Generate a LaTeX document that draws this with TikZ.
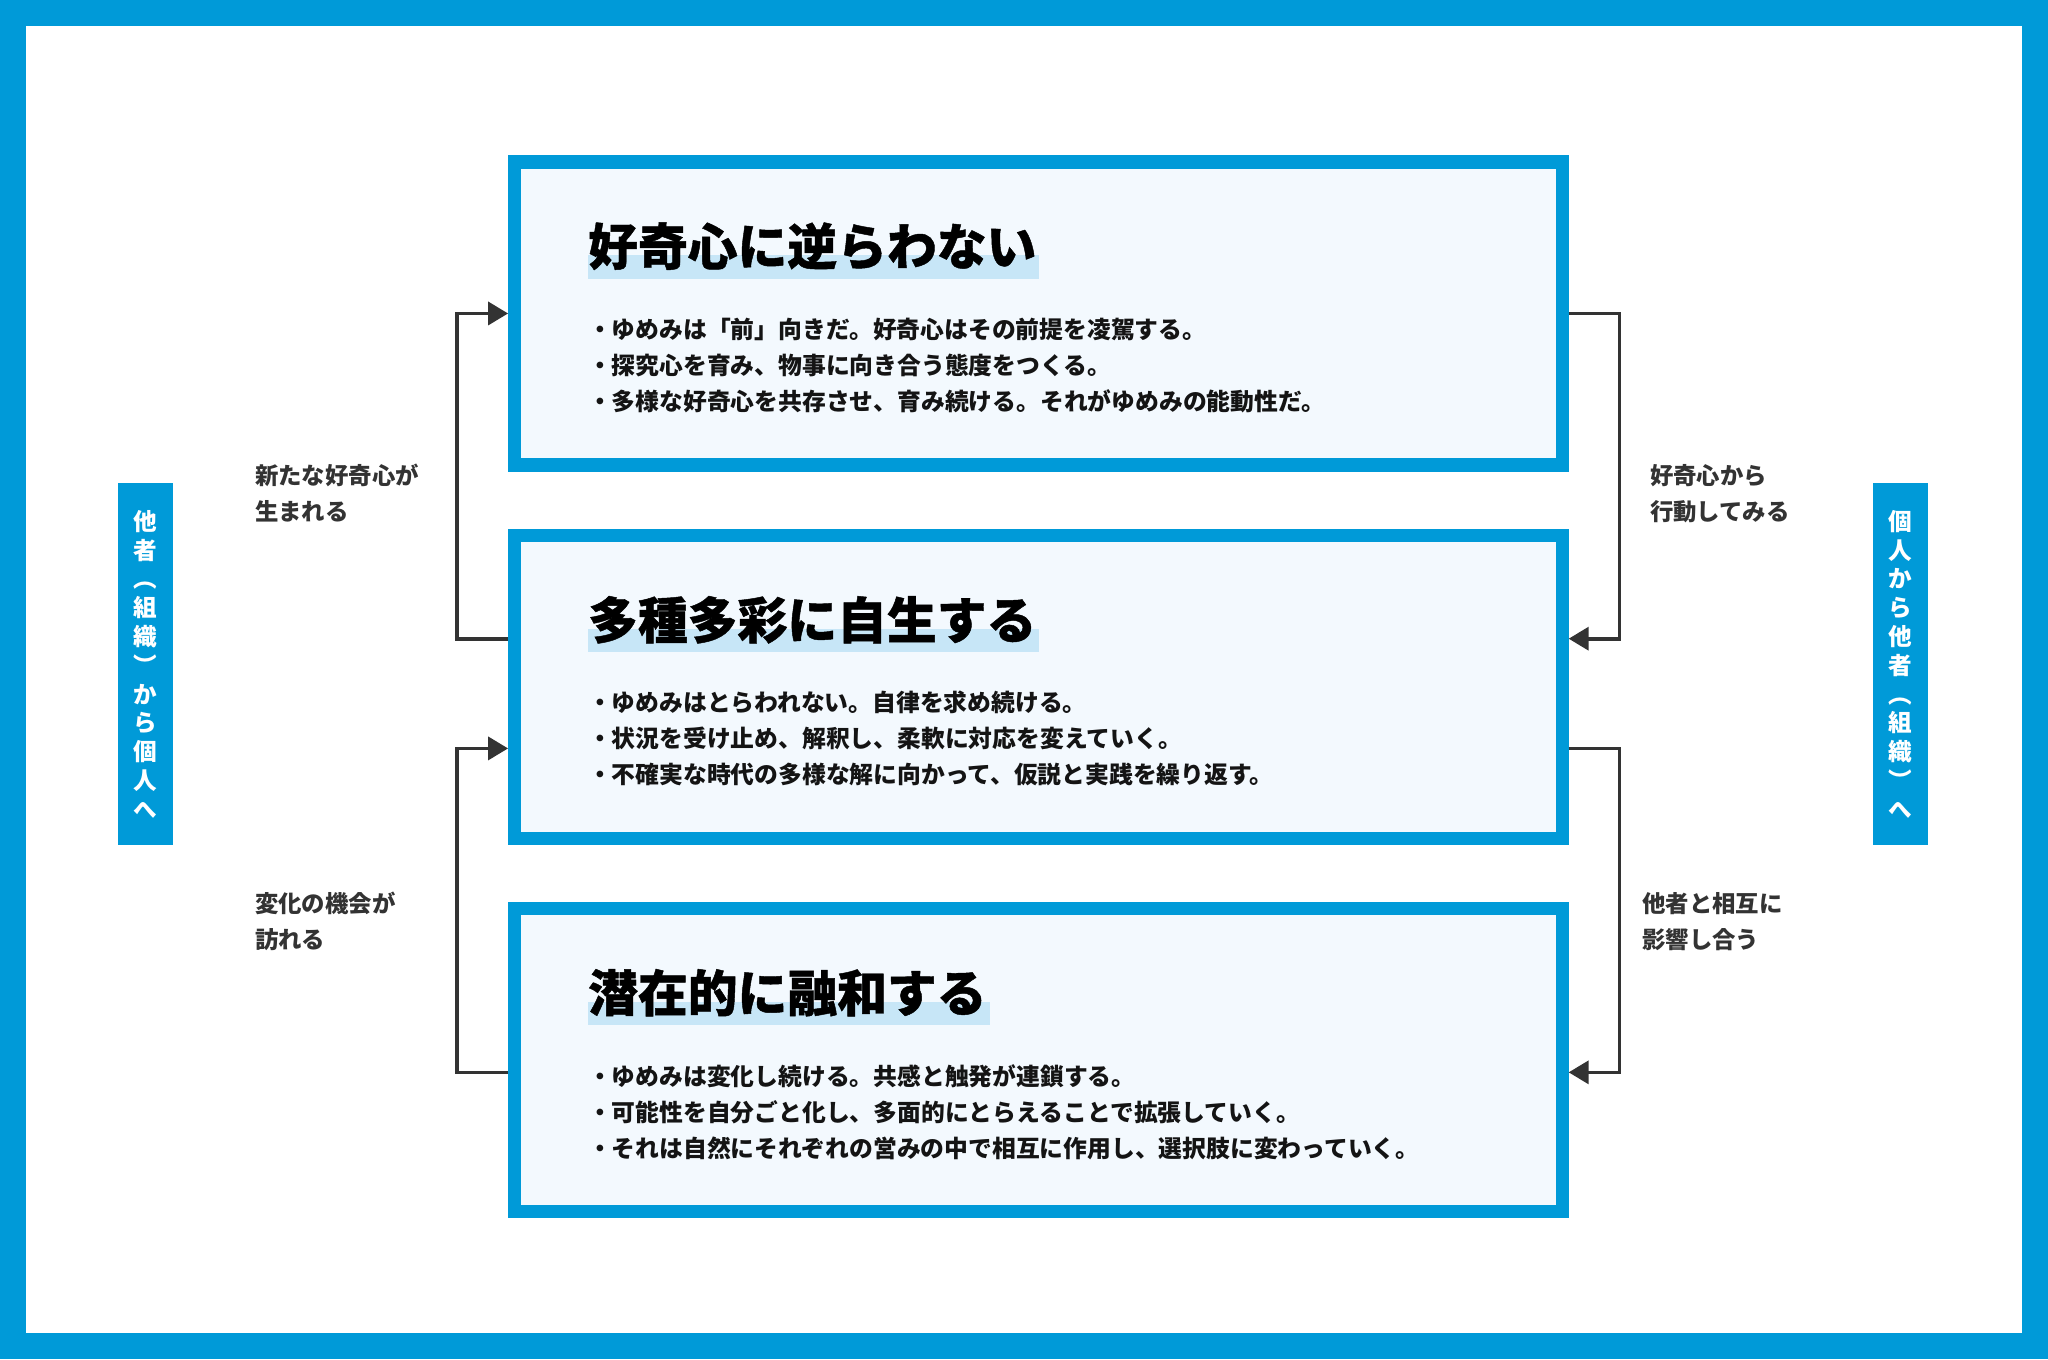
\documentclass[tikz,border=0pt]{standalone}
\usepackage{fontspec}
\newfontfamily\jp{Noto Sans CJK JP}
\newfontfamily\jpt{Noto Sans CJK JP}[BoldFeatures={FakeBold=0.9}]
\usetikzlibrary{arrows.meta,calc}
\definecolor{ymblue}{RGB}{0,154,216}
\definecolor{boxfill}{RGB}{243,249,254}
\definecolor{hlblue}{RGB}{199,230,247}
\definecolor{linegray}{RGB}{51,51,51}
\definecolor{inkdark}{RGB}{20,20,20}
\definecolor{lbltext}{RGB}{51,51,51}
\pgfdeclarelayer{back}
\pgfdeclarelayer{mid}
\pgfsetlayers{back,mid,main}
\tikzset{
 stagebox/.style={draw=ymblue, fill=boxfill, line width=6.53pt, minimum width=523.75pt, minimum height=151.5pt, inner sep=0pt},
 ttl/.style={anchor=west, inner sep=0pt, text=black, font=\jpt\bfseries\fontsize{24.9pt}{28pt}\selectfont},
 bodyline/.style={anchor=west, inner sep=0pt, text=inkdark, font=\jp\bfseries\fontsize{11.9pt}{14pt}\selectfont},
 sidelbl/.style={anchor=west, inner sep=0pt, text=lbltext, font=\jp\bfseries\fontsize{11.7pt}{18pt}\selectfont},
 sidebar/.style={fill=ymblue, minimum width=27.4pt, minimum height=181pt, inner sep=0pt, text=white, align=center, font=\jp\bfseries\fontsize{11.8pt}{14.4pt}\selectfont},
 conn/.style={draw=linegray, line width=1.8pt, -{Triangle[length=10pt,width=11.5pt]}},
 hl/.style={fill=hlblue}
}
\begin{document}
\begin{tikzpicture}[x=0.65306pt,y=-0.65306pt]
\useasboundingbox (0,0) rectangle (1568,1040.5);
\begin{pgfonlayer}{back}
\fill[ymblue] (0,0) rectangle (1568,1040.5);
\fill[white] (20,20) rectangle (1548,1020.5);
\node[stagebox] (b1) at (795,240) {};
\node[stagebox] (b2) at (795,526) {};
\node[stagebox] (b3) at (795,811.5) {};
\end{pgfonlayer}

% titles
\node[ttl] (t1) at (450,188.5) {好奇心に逆らわない};
\node[ttl] (t2) at (450,474.5) {多種多彩に自生する};
\node[ttl] (t3) at (450,760) {潜在的に融和する};
\begin{pgfonlayer}{mid}
\fill[hl] ($(t1.west)+(0,7)$) rectangle ($(t1.east)+(2,25)$);
\fill[hl] ($(t2.west)+(0,7)$) rectangle ($(t2.east)+(2,25)$);
\fill[hl] ($(t3.west)+(0,7)$) rectangle ($(t3.east)+(2,25)$);
\end{pgfonlayer}

% body lines
\node[bodyline] (p11) at (450,252) {・ゆめみは「前」向きだ。好奇心はその前提を凌駕する。};
\node[bodyline] (p12) at (450,279.5) {・探究心を育み、物事に向き合う態度をつくる。};
\node[bodyline] (p13) at (450,307) {・多様な好奇心を共存させ、育み続ける。それがゆめみの能動性だ。};
\node[bodyline] (p21) at (450,538) {・ゆめみはとらわれない。自律を求め続ける。};
\node[bodyline] (p22) at (450,565.5) {・状況を受け止め、解釈し、柔軟に対応を変えていく。};
\node[bodyline] (p23) at (450,593) {・不確実な時代の多様な解に向かって、仮説と実践を繰り返す。};
\node[bodyline] (p31) at (450,824) {・ゆめみは変化し続ける。共感と触発が連鎖する。};
\node[bodyline] (p32) at (450,851.5) {・可能性を自分ごと化し、多面的にとらえることで拡張していく。};
\node[bodyline] (p33) at (450,879) {・それは自然にそれぞれの営みの中で相互に作用し、選択肢に変わっていく。};

% connectors
\coordinate (l1s) at ($(b2.west)+(0,-37)$);
\coordinate (l2s) at ($(b3.west)+(0,9.5)$);
\coordinate (l2e) at ($(b2.west)+(0,47)$);
\coordinate (r1e) at ($(b2.east)+(0,-37)$);
\coordinate (r2s) at ($(b2.east)+(0,47)$);
\coordinate (r2e) at ($(b3.east)+(0,9.5)$);
\draw[conn] (l1s) -- ++(-39,0) |- (b1.west);
\draw[conn] (l2s) -- ++(-39,0) |- (l2e);
\draw[conn] (b1.east) -- ++(39,0) |- (r1e);
\draw[conn] (r2s) -- ++(39,0) |- (r2e);

% side labels
\node[sidelbl] (la1) at (195,364) {新たな好奇心が};
\node[sidelbl] (la2) at (195,391.5) {生まれる};
\node[sidelbl] (lb1) at (195,692) {変化の機会が};
\node[sidelbl] (lb2) at (195,719.5) {訪れる};
\node[sidelbl] (ra1) at (1263,364) {好奇心から};
\node[sidelbl] (ra2) at (1263,391.5) {行動してみる};
\node[sidelbl] (rb1) at (1257,692) {他者と相互に};
\node[sidelbl] (rb2) at (1257,719.5) {影響し合う};

% vertical bars
\node[sidebar] (vl) at (111.5,508.5) {他\\者\\︵\\組\\織\\︶\\か\\ら\\個\\人\\へ};
\node[sidebar] (vr) at (1455,508.5) {個\\人\\か\\ら\\他\\者\\︵\\組\\織\\︶\\へ};
\end{tikzpicture}
\end{document}
